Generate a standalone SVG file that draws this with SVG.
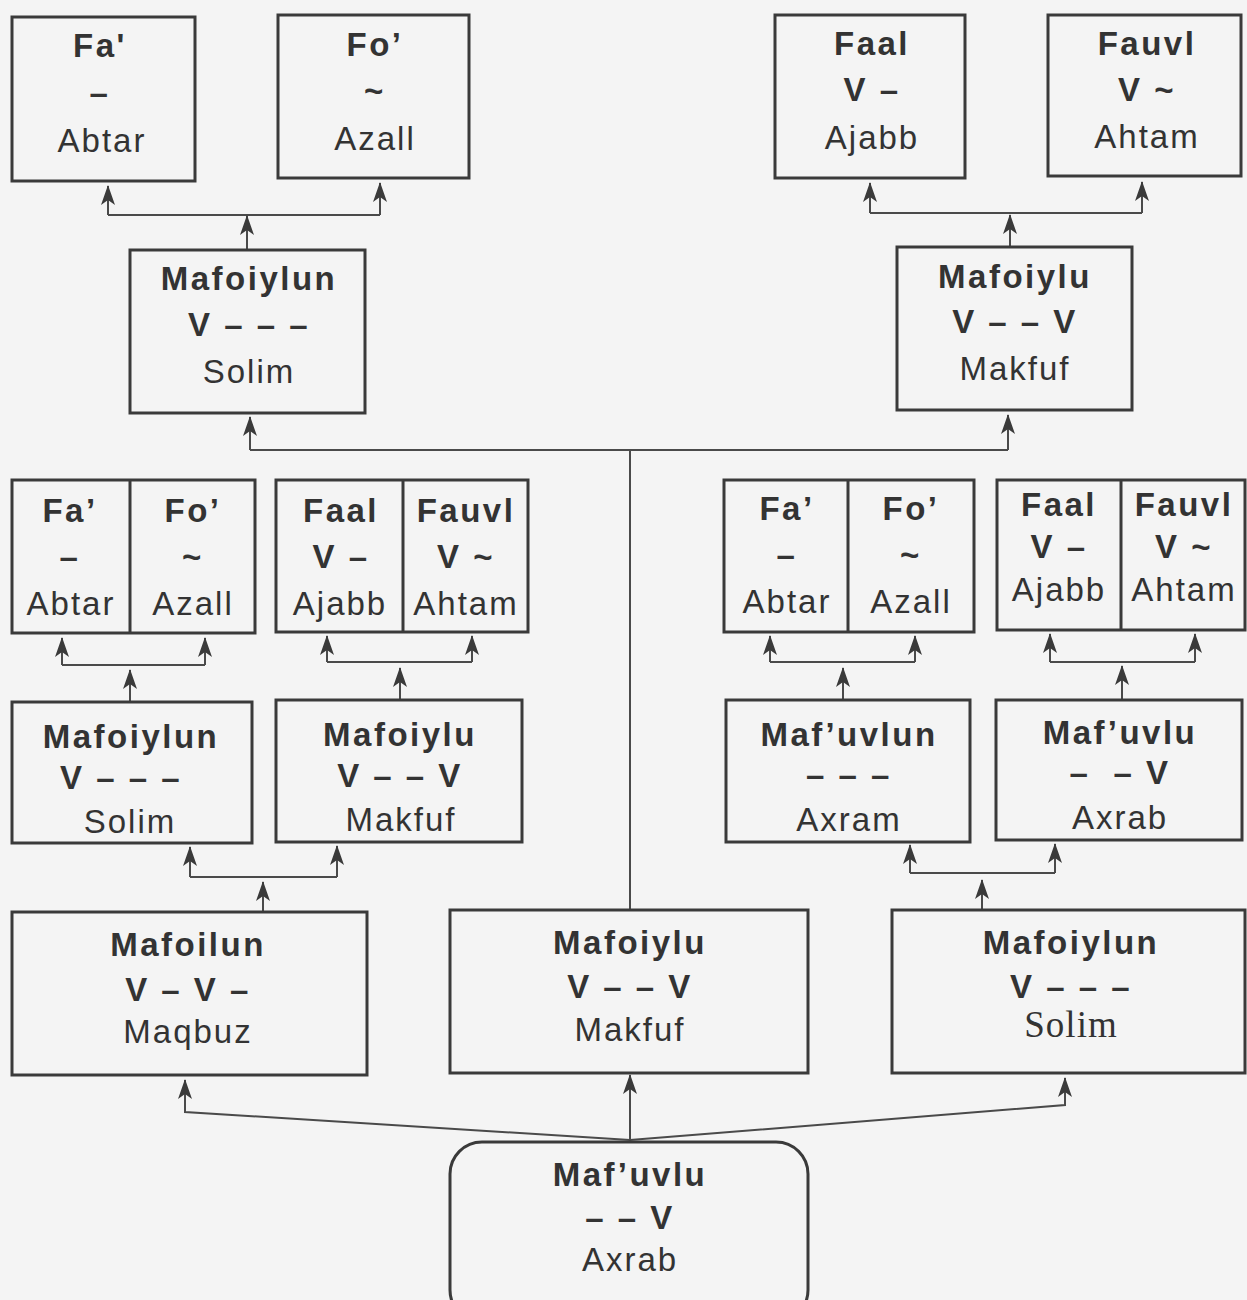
<svg xmlns="http://www.w3.org/2000/svg" width="1247" height="1300" viewBox="0 0 1247 1300">
<defs>
<marker id="ah" viewBox="0 0 20 14" refX="19" refY="7" markerWidth="20" markerHeight="14" markerUnits="userSpaceOnUse" orient="auto">
<path d="M20,7 L0,0 L5,7 L0,14 Z" fill="#3a3a3a"/>
</marker>
</defs>
<style>
.box{fill:none;stroke:#3a3a3a;stroke-width:3}
.c{fill:none;stroke:#4a4a4a;stroke-width:2}
.a{fill:none;stroke:#4a4a4a;stroke-width:2;marker-end:url(#ah)}
text{font-family:"Liberation Sans",Arial,sans-serif;font-size:33px;fill:#333;text-anchor:middle;letter-spacing:2px}
.b{font-weight:bold;letter-spacing:2.5px}
.serif{font-family:"Liberation Serif","Times New Roman",serif;font-size:37px;letter-spacing:1px}
</style>
<rect width="1247" height="1300" fill="#f4f4f4"/>

<g id="connectors">
<polyline class="c" points="108,215 380,215"/>
<line class="a" x1="108" y1="215" x2="108" y2="186"/>
<line class="a" x1="380" y1="215" x2="380" y2="183"/>
<line class="a" x1="247" y1="250" x2="247" y2="216"/>
<polyline class="c" points="870,213 1142,213"/>
<line class="a" x1="870" y1="213" x2="870" y2="183"/>
<line class="a" x1="1142" y1="213" x2="1142" y2="182"/>
<line class="a" x1="1010" y1="247" x2="1010" y2="215"/>
<polyline class="c" points="250,450 1008,450"/>
<line class="a" x1="250" y1="450" x2="250" y2="417"/>
<line class="a" x1="1008" y1="450" x2="1008" y2="415"/>
<line class="c" x1="630" y1="450" x2="630" y2="910"/>
<polyline class="c" points="62,665 205,665"/>
<line class="a" x1="62" y1="665" x2="62" y2="638"/>
<line class="a" x1="205" y1="665" x2="205" y2="638"/>
<line class="a" x1="130" y1="702" x2="130" y2="670"/>
<polyline class="c" points="327,662 472,662"/>
<line class="a" x1="327" y1="662" x2="327" y2="636"/>
<line class="a" x1="472" y1="662" x2="472" y2="636"/>
<line class="a" x1="400" y1="700" x2="400" y2="668"/>
<polyline class="c" points="770,662 915,662"/>
<line class="a" x1="770" y1="662" x2="770" y2="636"/>
<line class="a" x1="915" y1="662" x2="915" y2="636"/>
<line class="a" x1="843" y1="700" x2="843" y2="668"/>
<polyline class="c" points="1050,662 1195,662"/>
<line class="a" x1="1050" y1="662" x2="1050" y2="634"/>
<line class="a" x1="1195" y1="662" x2="1195" y2="634"/>
<line class="a" x1="1122" y1="700" x2="1122" y2="666"/>
<polyline class="c" points="190,877 337,877"/>
<line class="a" x1="190" y1="877" x2="190" y2="847"/>
<line class="a" x1="337" y1="877" x2="337" y2="846"/>
<line class="a" x1="263" y1="912" x2="263" y2="882"/>
<polyline class="c" points="910,873 1055,873"/>
<line class="a" x1="910" y1="873" x2="910" y2="845"/>
<line class="a" x1="1055" y1="873" x2="1055" y2="844"/>
<line class="a" x1="982" y1="910" x2="982" y2="880"/>
<polyline class="a" points="630,1140 185,1112 185,1080"/>
<polyline class="a" points="630,1140 1065,1105 1065,1078"/>
<line class="a" x1="630" y1="1142" x2="630" y2="1075"/>
</g>

<g id="n-top-fa">
<rect class="box" x="12" y="17" width="183" height="164"/>
<text class="b" x="100" y="57">Fa'</text>
<text class="b" x="100" y="104">–</text>
<text x="102" y="152">Abtar</text>
</g>
<g id="n-top-fo">
<rect class="box" x="278" y="15" width="191" height="163"/>
<text class="b" x="375" y="56">Fo’</text>
<text class="b" x="375" y="102">~</text>
<text x="375" y="150">Azall</text>
</g>
<g id="n-top-faal">
<rect class="box" x="775" y="15" width="190" height="163"/>
<text class="b" x="872" y="55">Faal</text>
<text class="b" x="872" y="101">V –</text>
<text x="872" y="149">Ajabb</text>
</g>
<g id="n-top-fauvl">
<rect class="box" x="1048" y="15" width="193" height="161"/>
<text class="b" x="1147" y="55">Fauvl</text>
<text class="b" x="1147" y="101">V ~</text>
<text x="1147" y="148">Ahtam</text>
</g>

<g id="n-r2-mafoiylun">
<rect class="box" x="130" y="250" width="235" height="163"/>
<text class="b" x="249" y="290">Mafoiylun</text>
<text class="b" x="249" y="336">V – – –</text>
<text x="249" y="383">Solim</text>
</g>
<g id="n-r2-mafoiylu">
<rect class="box" x="897" y="247" width="235" height="163"/>
<text class="b" x="1015" y="288">Mafoiylu</text>
<text class="b" x="1015" y="333">V – – V</text>
<text x="1015" y="380">Makfuf</text>
</g>

<g id="n-r3-g1">
<rect class="box" x="12" y="480" width="243" height="153"/>
<line class="box" x1="130" y1="480" x2="130" y2="633"/>
<text class="b" x="70" y="522">Fa’</text>
<text class="b" x="70" y="568">–</text>
<text x="71" y="615">Abtar</text>
<text class="b" x="193" y="522">Fo’</text>
<text class="b" x="193" y="568">~</text>
<text x="193" y="615">Azall</text>
</g>
<g id="n-r3-g2">
<rect class="box" x="276" y="480" width="252" height="152"/>
<line class="box" x1="403" y1="480" x2="403" y2="632"/>
<text class="b" x="341" y="522">Faal</text>
<text class="b" x="341" y="568">V –</text>
<text x="340" y="615">Ajabb</text>
<text class="b" x="466" y="522">Fauvl</text>
<text class="b" x="466" y="568">V ~</text>
<text x="466" y="615">Ahtam</text>
</g>
<g id="n-r3-g3">
<rect class="box" x="724" y="480" width="250" height="152"/>
<line class="box" x1="848" y1="480" x2="848" y2="632"/>
<text class="b" x="787" y="520">Fa’</text>
<text class="b" x="787" y="566">–</text>
<text x="787" y="613">Abtar</text>
<text class="b" x="911" y="520">Fo’</text>
<text class="b" x="911" y="566">~</text>
<text x="911" y="613">Azall</text>
</g>
<g id="n-r3-g4">
<rect class="box" x="997" y="480" width="248" height="150"/>
<line class="box" x1="1121" y1="480" x2="1121" y2="630"/>
<text class="b" x="1059" y="516">Faal</text>
<text class="b" x="1059" y="558">V –</text>
<text x="1059" y="601">Ajabb</text>
<text class="b" x="1184" y="516">Fauvl</text>
<text class="b" x="1184" y="558">V ~</text>
<text x="1184" y="601">Ahtam</text>
</g>

<g id="n-r4-mafoiylun">
<rect class="box" x="12" y="702" width="240" height="141"/>
<text class="b" x="131" y="748">Mafoiylun</text>
<text class="b" x="121" y="789">V – – –</text>
<text x="130" y="833">Solim</text>
</g>
<g id="n-r4-mafoiylu">
<rect class="box" x="276" y="700" width="246" height="142"/>
<text class="b" x="400" y="746">Mafoiylu</text>
<text class="b" x="400" y="787">V – – V</text>
<text x="401" y="831">Makfuf</text>
</g>
<g id="n-r4-mafuvlun">
<rect class="box" x="726" y="700" width="244" height="142"/>
<text class="b" x="849" y="746">Maf’uvlun</text>
<text class="b" x="849" y="786">– – –</text>
<text x="849" y="831">Axram</text>
</g>
<g id="n-r4-mafuvlu">
<rect class="box" x="996" y="700" width="246" height="140"/>
<text class="b" x="1120" y="744">Maf’uvlu</text>
<text class="b" x="1120" y="784" xml:space="preserve">–  – V</text>
<text x="1120" y="829">Axrab</text>
</g>

<g id="n-r5-mafoilun">
<rect class="box" x="12" y="912" width="355" height="163"/>
<text class="b" x="188" y="956">Mafoilun</text>
<text class="b" x="188" y="1001">V – V –</text>
<text x="188" y="1043">Maqbuz</text>
</g>
<g id="n-r5-mafoiylu">
<rect class="box" x="450" y="910" width="358" height="163"/>
<text class="b" x="630" y="954">Mafoiylu</text>
<text class="b" x="630" y="998">V – – V</text>
<text x="630" y="1041">Makfuf</text>
</g>
<g id="n-r5-mafoiylun">
<rect class="box" x="892" y="910" width="353" height="163"/>
<text class="b" x="1071" y="954">Mafoiylun</text>
<text class="b" x="1071" y="998">V – – –</text>
<text class="serif" x="1071" y="1037">Solim</text>
</g>

<g id="n-root">
<rect class="box" x="450" y="1142" width="358" height="180" rx="32" ry="32"/>
<text class="b" x="630" y="1186">Maf’uvlu</text>
<text class="b" x="630" y="1229">– – V</text>
<text x="630" y="1271">Axrab</text>
</g>
</svg>
